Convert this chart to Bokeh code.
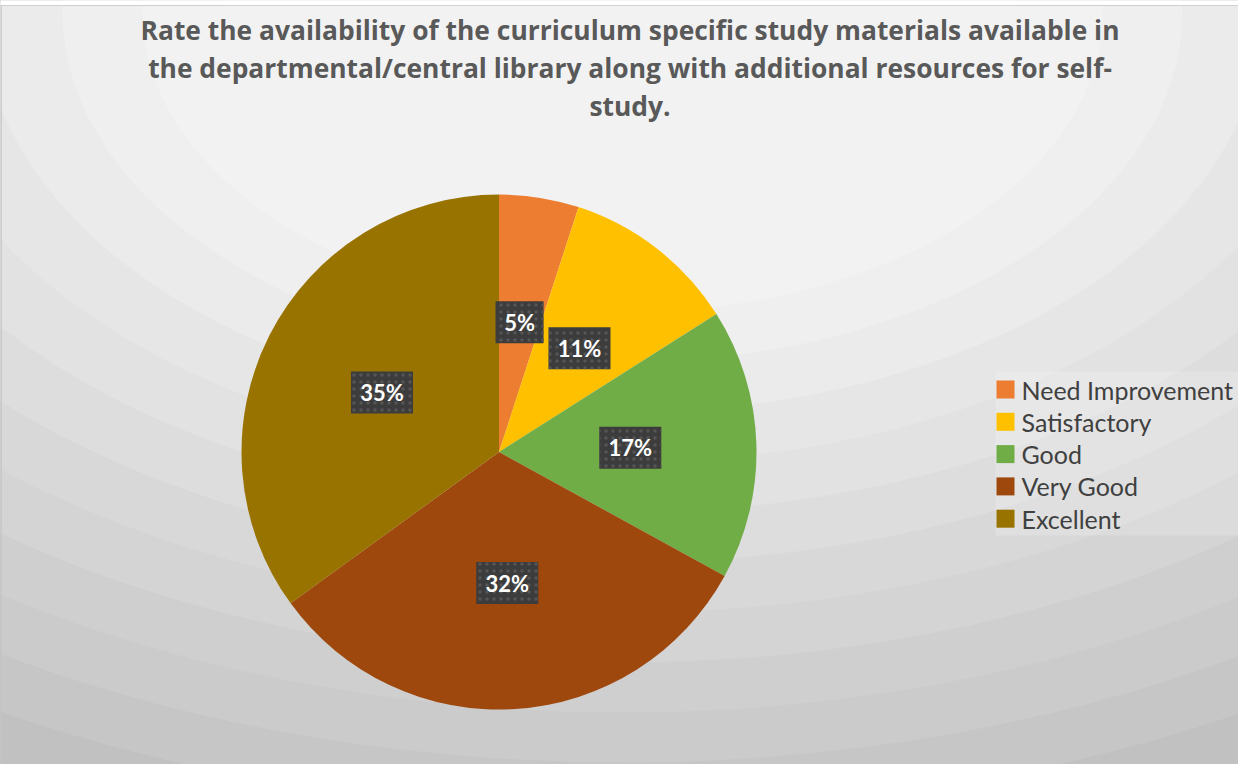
import math
from bokeh.plotting import figure
from bokeh.models import ColumnDataSource, Range1d
from bokeh.core.properties import value
from bokeh.embed import file_html
from bokeh.resources import INLINE

# ---- data ----
categories = ["Need Improvement", "Satisfactory", "Good", "Very Good", "Excellent"]
percent = [5, 11, 17, 32, 35]
colors = ["#ED7D31", "#FFC000", "#70AD47", "#9E480E", "#997300"]
title_lines = [
    "Rate the availability of the curriculum specific study materials available in",
    "the departmental/central library along with additional resources for self-",
    "study.",
]

W, H = 1238, 764
p = figure(width=W, height=H, output_backend="svg", toolbar_location=None,
           x_range=Range1d(0, W), y_range=Range1d(0, H),
           x_axis_location=None, y_axis_location=None, min_border=0)
p.grid.visible = False
p.outline_line_color = None
p.background_fill_color = "#c0c0c0"
p.border_fill_color = "white"

def sy(v):  # screen y of reference -> figure y
    return 772 - v

def sx(v):
    return v - 8

# ---- banded radial background ----
cx, cy = sx(630), sy(20)
step = 50
radii = list(range(1100, 0, -step))
bg_w, bg_h, bg_c = [], [], []
for r in radii:
    d = r - step / 2
    g = 234 - 0.092 * (d - 389)
    g = int(max(188, min(242, g)))
    bg_w.append(2 * 1.6 * r)
    bg_h.append(2 * r)
    bg_c.append("#%02x%02x%02x" % (g, g, g))
p.ellipse(x=[cx] * len(radii), y=[cy] * len(radii), width=bg_w, height=bg_h,
          fill_color=bg_c, line_color=None)

# white strip on top and thin frame line
p.rect(x=[W / 2], y=[H - 2.5], width=[W], height=[5], fill_color="white", line_color=None)
p.line(x=[0, W], y=[H - 5, H - 5], line_color="#d0d0d0", line_width=1)
p.line(x=[0.5, 0.5], y=[0, H - 5], line_color="#c4c4c4", line_width=1.5)

# ---- pie ----
pcx, pcy, R = sx(506.5), sy(459.5), 257.5
total = float(sum(percent))
starts, ends, lx, ly = [], [], [], []
cum = 0.0
for v in percent:
    a0 = math.pi / 2 - 2 * math.pi * cum / total
    a1 = math.pi / 2 - 2 * math.pi * (cum + v) / total
    starts.append(a0)
    ends.append(a1)
    mid = (a0 + a1) / 2
    lx.append(pcx + 0.51 * R * math.cos(mid))
    ly.append(pcy + 0.51 * R * math.sin(mid))
    cum += v

src = ColumnDataSource(dict(cat=categories, val=percent, color=colors,
                            start=starts, end=ends, lx=lx, ly=ly,
                            lab=[f"{v}%" for v in percent],
                            bw=[20 + 14 * len(f"{v}%") for v in percent]))
p.wedge(x=pcx, y=pcy, radius=R, start_angle="start", end_angle="end",
        direction="clock", fill_color="color", line_color=None, source=src)

# data labels
p.rect(x="lx", y="ly", width="bw", height=42, source=src, fill_color="#3c3c3c",
       line_color=None, hatch_pattern="dot", hatch_color="#555555", hatch_scale=7)
p.text(x="lx", y="ly", text="lab", source=src, text_color="white",
       text_font=value("Lato"), text_font_style="bold", text_font_size="22px",
       text_align="center", text_baseline="middle")

# ---- title ----
p.text(x=[sx(637.5)] * 3, y=[sy(37), sy(75), sy(113)], text=title_lines,
       text_color="#595959", text_font=value("Open Sans"), text_font_style="bold",
       text_font_size="26.4px", text_align="center", text_baseline="middle")

# ---- legend ----
n = len(categories)
row_y = [sy(397 + 32.3 * i) for i in range(n)]
p.rect(x=[sx(1128)], y=[sy(461)], width=[250], height=[164],
       fill_color="white", fill_alpha=0.18, line_color=None)
p.rect(x=[sx(1013)] * n, y=row_y, width=18, height=18, fill_color=colors, line_color=None)
p.text(x=[sx(1029)] * n, y=row_y, text=categories, text_color="#404040",
       text_font=value("Lato"), text_font_size="25px", text_align="left",
       text_baseline="middle")

open("out.html", "w").write(file_html(p, INLINE))
